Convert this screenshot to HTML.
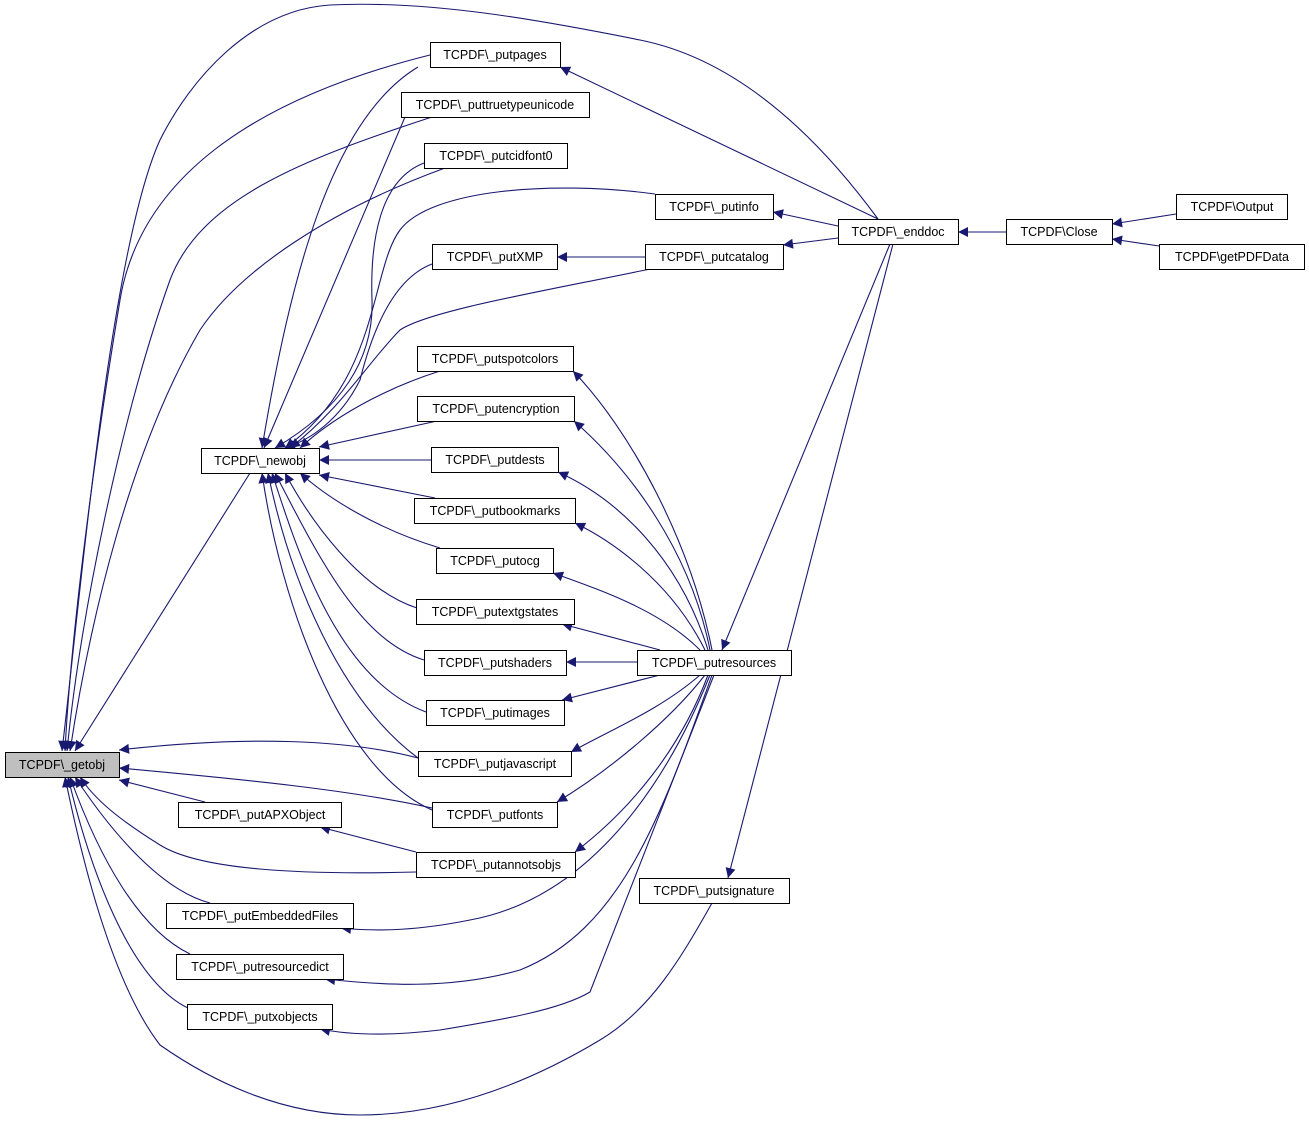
<!DOCTYPE html>
<html><head><meta charset="utf-8"><style>
html,body{margin:0;padding:0;background:#fff;width:1309px;height:1122px;overflow:hidden}
svg{position:absolute;left:0;top:0}
text{font-family:"Liberation Sans",Arial,sans-serif;font-size:12.5px;fill:#000}
</style></head><body>
<svg width="1309" height="1122" viewBox="0 0 1309 1122">
<defs><marker id="a" viewBox="0 0 10 10" refX="10" refY="5" markerWidth="12" markerHeight="10" markerUnits="userSpaceOnUse" orient="auto"><path d="M0,0 L10,5 L0,10 z" fill="#191970"/></marker></defs>
<g fill="none" stroke="#191970" stroke-width="1.1" marker-end="url(#a)">
<path d="M250,473 L75,751"/>
<path d="M430,55 C250,100 140,180 120,300 C90,480 70,650 65,751"/>
<path d="M432,117 C300,160 200,200 170,280 C120,420 80,620 67,751"/>
<path d="M445,168 C330,210 240,270 200,330 C130,450 90,620 70,751"/>
<path d="M878,219 C820,140 740,60 640,40 C540,20 430,0 330,5 C250,10 190,80 160,140 C110,250 80,600 62,751"/>
<path d="M418,758 C350,740 250,735 119,750"/>
<path d="M432,808 C350,790 250,780 119,768"/>
<path d="M205,802 L119,780"/>
<path d="M416,872 C300,875 200,870 160,845 C120,820 95,800 80,777"/>
<path d="M210,903 C160,890 110,830 75,777"/>
<path d="M190,954 C140,930 100,860 70,777"/>
<path d="M188,1008 C130,980 90,870 68,777"/>
<path d="M712,903 C680,960 650,1010 600,1040 C500,1100 420,1115 360,1115 C280,1115 210,1080 160,1045 C110,980 80,850 65,777"/>
<path d="M418,67 C330,120 290,280 262,448"/>
<path d="M405,117 L264,448"/>
<path d="M424,163 C380,180 370,240 372,300 C374,360 340,410 275,448"/>
<path d="M655,194 C550,180 430,190 400,230 C370,270 380,380 285,448"/>
<path d="M432,264 C390,280 370,340 360,380 C340,420 310,440 285,448"/>
<path d="M650,269 C550,290 430,310 400,330 C370,360 340,410 290,448"/>
<path d="M440,371 C380,390 330,420 300,448"/>
<path d="M437,421 L319,447"/>
<path d="M431,460 L319,460"/>
<path d="M435,498 L319,475"/>
<path d="M440,548 C380,530 330,500 300,473"/>
<path d="M417,608 C360,590 310,520 285,473"/>
<path d="M424,660 C360,640 320,560 275,473"/>
<path d="M426,712 C340,680 300,560 272,473"/>
<path d="M418,758 C340,700 290,580 268,473"/>
<path d="M432,810 C340,770 280,600 262,473"/>
<path d="M890,244 L722,650"/>
<path d="M893,244 L728,878"/>
<path d="M416,852 L320,827"/>
<path d="M645,257 L557,257"/>
<path d="M878,219 L560,67"/>
<path d="M838,226 L773,212"/>
<path d="M838,238 L783,245"/>
<path d="M1006,232 L958,232"/>
<path d="M1176,214 L1112,224"/>
<path d="M1159,246 L1112,239"/>
<path d="M712,650 C690,540 630,430 573,371"/>
<path d="M710,650 C690,550 630,470 574,421"/>
<path d="M708,650 C680,560 620,500 558,472"/>
<path d="M705,650 C670,580 610,540 575,523"/>
<path d="M700,650 C660,610 600,590 553,573"/>
<path d="M660,650 L562,624"/>
<path d="M637,662 L566,662"/>
<path d="M660,675 L562,700"/>
<path d="M700,675 C660,710 610,730 571,752"/>
<path d="M705,675 C670,720 610,770 557,802"/>
<path d="M708,675 C680,750 630,810 575,852"/>
<path d="M710,675 C660,800 580,900 470,920 C420,930 380,932 341,928"/>
<path d="M712,675 C660,820 620,930 520,970 C450,990 380,985 325,979"/>
<path d="M714,675 L590,992 C560,1010 500,1020 440,1030 C390,1036 350,1035 320,1029"/>
</g>
<g stroke="#000" stroke-width="1" fill="#fff">
<rect x="5.5" y="752.5" width="114" height="25" fill="#bfbfbf"/>
<rect x="201.5" y="448.5" width="118" height="25"/>
<rect x="430.5" y="42.5" width="130" height="25"/>
<rect x="401.5" y="92.5" width="188" height="25"/>
<rect x="424.5" y="143.5" width="143" height="25"/>
<rect x="655.5" y="194.5" width="118" height="25"/>
<rect x="432.5" y="244.5" width="125" height="25"/>
<rect x="645.5" y="244.5" width="138" height="25"/>
<rect x="838.5" y="219.5" width="120" height="25"/>
<rect x="1006.5" y="219.5" width="106" height="25"/>
<rect x="1176.5" y="194.5" width="111" height="25"/>
<rect x="1159.5" y="244.5" width="145" height="25"/>
<rect x="417.5" y="346.5" width="156" height="25"/>
<rect x="417.5" y="396.5" width="157" height="25"/>
<rect x="431.5" y="447.5" width="127" height="25"/>
<rect x="414.5" y="498.5" width="161" height="25"/>
<rect x="436.5" y="548.5" width="117" height="25"/>
<rect x="416.5" y="599.5" width="158" height="25"/>
<rect x="424.5" y="650.5" width="142" height="25"/>
<rect x="426.5" y="700.5" width="138" height="25"/>
<rect x="637.5" y="650.5" width="154" height="25"/>
<rect x="418.5" y="751.5" width="153" height="25"/>
<rect x="432.5" y="802.5" width="125" height="25"/>
<rect x="178.5" y="802.5" width="163" height="25"/>
<rect x="416.5" y="852.5" width="159" height="25"/>
<rect x="639.5" y="878.5" width="150" height="25"/>
<rect x="166.5" y="903.5" width="187" height="25"/>
<rect x="176.5" y="954.5" width="167" height="25"/>
<rect x="187.5" y="1004.5" width="145" height="25"/>
</g>
<g text-anchor="middle">
<text x="62" y="769">TCPDF\_getobj</text>
<text x="260" y="465">TCPDF\_newobj</text>
<text x="495" y="59">TCPDF\_putpages</text>
<text x="495" y="109">TCPDF\_puttruetypeunicode</text>
<text x="496" y="160">TCPDF\_putcidfont0</text>
<text x="714" y="211">TCPDF\_putinfo</text>
<text x="495" y="261">TCPDF\_putXMP</text>
<text x="714" y="261">TCPDF\_putcatalog</text>
<text x="898" y="236">TCPDF\_enddoc</text>
<text x="1059" y="236">TCPDF\Close</text>
<text x="1232" y="211">TCPDF\Output</text>
<text x="1232" y="261">TCPDF\getPDFData</text>
<text x="495" y="363">TCPDF\_putspotcolors</text>
<text x="496" y="413">TCPDF\_putencryption</text>
<text x="495" y="464">TCPDF\_putdests</text>
<text x="495" y="515">TCPDF\_putbookmarks</text>
<text x="495" y="565">TCPDF\_putocg</text>
<text x="495" y="616">TCPDF\_putextgstates</text>
<text x="495" y="667">TCPDF\_putshaders</text>
<text x="495" y="717">TCPDF\_putimages</text>
<text x="714" y="667">TCPDF\_putresources</text>
<text x="495" y="768">TCPDF\_putjavascript</text>
<text x="495" y="819">TCPDF\_putfonts</text>
<text x="260" y="819">TCPDF\_putAPXObject</text>
<text x="496" y="869">TCPDF\_putannotsobjs</text>
<text x="714" y="895">TCPDF\_putsignature</text>
<text x="260" y="920">TCPDF\_putEmbeddedFiles</text>
<text x="260" y="971">TCPDF\_putresourcedict</text>
<text x="260" y="1021">TCPDF\_putxobjects</text>
</g>
</svg>
</body></html>
